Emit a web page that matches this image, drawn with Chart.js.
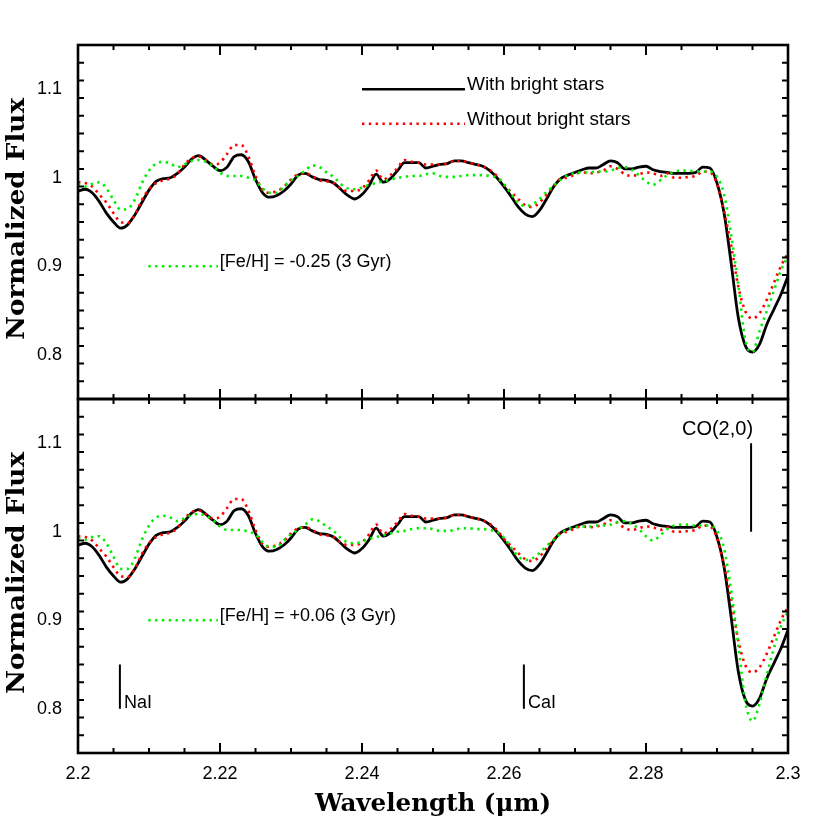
<!DOCTYPE html>
<html>
<head>
<meta charset="utf-8">
<script src="https://cdn.jsdelivr.net/npm/chart.js@4.4.0/dist/chart.umd.min.js"></script>
<style>
  html, body { margin: 0; padding: 0; background: #fff; }
  #wrap { width: 830px; height: 830px; }
</style>
</head>
<body>
<div id="wrap"><canvas id="spectra" width="830" height="830"></canvas></div>
<script>
// wavelength grid (micron)
const wavelength = [
  2.200, 2.201, 2.202, 2.203, 2.204, 2.205, 2.206, 2.207, 2.208, 2.209,
  2.210, 2.211, 2.212, 2.213, 2.214, 2.215, 2.216, 2.217, 2.218, 2.219,
  2.220, 2.221, 2.222, 2.223, 2.224, 2.225, 2.226, 2.227, 2.228, 2.229,
  2.230, 2.231, 2.232, 2.233, 2.234, 2.235, 2.236, 2.237, 2.238, 2.239,
  2.240, 2.241, 2.242, 2.243, 2.244, 2.245, 2.246, 2.247, 2.248, 2.249,
  2.250, 2.251, 2.252, 2.253, 2.254, 2.255, 2.256, 2.257, 2.258, 2.259,
  2.260, 2.261, 2.262, 2.263, 2.264, 2.265, 2.266, 2.267, 2.268, 2.269,
  2.270, 2.271, 2.272, 2.273, 2.274, 2.275, 2.276, 2.277, 2.278, 2.279,
  2.280, 2.281, 2.282, 2.283, 2.284, 2.285, 2.286, 2.287, 2.288, 2.289,
  2.290, 2.291, 2.292, 2.293, 2.294, 2.295, 2.296, 2.297, 2.298, 2.299,
  2.300
];

// normalized flux, with bright stars (same in both panels)
const withBright = [
  0.985, 0.987, 0.983, 0.973, 0.960, 0.950, 0.943, 0.947, 0.958, 0.972,
  0.986, 0.996, 0.999, 1.000, 1.005, 1.012, 1.021, 1.025, 1.020, 1.013,
  1.008, 1.012, 1.024, 1.026, 1.018, 0.998, 0.983, 0.978, 0.980, 0.985,
  0.993, 1.003, 1.005, 1.001, 0.998, 0.997, 0.994, 0.987, 0.980, 0.976,
  0.981, 0.991, 1.004, 0.995, 0.999, 1.008, 1.017, 1.017, 1.017, 1.011,
  1.013, 1.015, 1.016, 1.019, 1.019, 1.017, 1.015, 1.013, 1.008, 1.000,
  0.990, 0.979, 0.967, 0.959, 0.956, 0.963, 0.976, 0.990, 0.999, 1.003,
  1.006, 1.009, 1.011, 1.011, 1.015, 1.019, 1.017, 1.010, 1.010, 1.012,
  1.013, 1.009, 1.007, 1.006, 1.005, 1.005, 1.005, 1.006, 1.012, 1.011,
  0.994, 0.960, 0.903, 0.842, 0.810, 0.803, 0.812, 0.834, 0.851, 0.868,
  0.889
];

// normalized flux, without bright stars
const withoutBright = [
  0.995, 0.994, 0.990, 0.981, 0.972, 0.960, 0.950, 0.949, 0.958, 0.975,
  0.987, 0.994, 0.997, 0.999, 1.004, 1.015, 1.022, 1.024, 1.020, 1.015,
  1.017, 1.027, 1.037, 1.037, 1.024, 1.002, 0.986, 0.983, 0.985, 0.990,
  0.998, 1.004, 1.005, 1.002, 0.997, 0.996, 0.994, 0.988, 0.985, 0.985,
  0.988, 0.997, 1.008, 0.998, 1.003, 1.011, 1.020, 1.018, 1.017, 1.015,
  1.015, 1.015, 1.016, 1.019, 1.019, 1.017, 1.015, 1.013, 1.009, 1.002,
  0.992, 0.984, 0.976, 0.969, 0.967, 0.972, 0.981, 0.991, 0.999, 1.000,
  1.004, 1.006, 1.005, 1.006, 1.008, 1.013, 1.010, 1.004, 1.002, 1.004,
  1.006, 1.005, 1.002, 1.005, 1.000, 1.000, 1.001, 1.002, 1.007, 1.006,
  0.993, 0.962, 0.923, 0.877, 0.849, 0.841, 0.847, 0.862, 0.881, 0.900,
  0.915
];

// model, [Fe/H] = -0.25 (3 Gyr), top panel
const modelMinus025 = [
  0.993, 0.990, 0.993, 0.995, 0.988, 0.975, 0.964, 0.965, 0.975, 0.994,
  1.008, 1.016, 1.018, 1.016, 1.012, 1.015, 1.019, 1.020, 1.018, 1.013,
  1.006, 1.002, 1.002, 1.002, 1.000, 0.997, 0.988, 0.983, 0.983, 0.990,
  0.997, 1.002, 1.008, 1.014, 1.012, 1.006, 1.001, 0.993, 0.988, 0.987,
  0.989, 0.992, 0.994, 0.996, 0.998, 1.000, 1.001, 1.002, 1.002, 1.004,
  1.005, 1.002, 1.001, 1.001, 1.002, 1.003, 1.003, 1.003, 1.002, 1.000,
  0.993, 0.982, 0.972, 0.968, 0.970, 0.976, 0.984, 0.991, 0.998, 1.003,
  1.005, 1.006, 1.006, 1.007, 1.007, 1.008, 1.011, 1.012, 1.009, 1.003,
  0.996, 0.992, 0.997, 1.003, 1.007, 1.008, 1.008, 1.007, 1.007, 1.007,
  1.001, 0.981, 0.935, 0.879, 0.816, 0.803, 0.827, 0.849, 0.872, 0.895,
  0.912
];

// model, [Fe/H] = +0.06 (3 Gyr), bottom panel
const modelPlus006 = [
  0.993, 0.991, 0.994, 0.995, 0.987, 0.972, 0.958, 0.958, 0.970, 0.991,
  1.007, 1.016, 1.018, 1.016, 1.012, 1.015, 1.019, 1.020, 1.018, 1.013,
  1.006, 1.002, 1.002, 1.002, 1.000, 0.997, 0.988, 0.983, 0.983, 0.990,
  0.997, 1.002, 1.008, 1.014, 1.012, 1.006, 1.001, 0.993, 0.988, 0.987,
  0.989, 0.992, 0.994, 0.996, 0.998, 1.000, 1.001, 1.003, 1.004, 1.004,
  1.003, 1.001, 1.001, 1.002, 1.004, 1.004, 1.003, 1.003, 1.002, 1.000,
  0.993, 0.982, 0.972, 0.968, 0.970, 0.976, 0.984, 0.991, 0.998, 1.003,
  1.005, 1.006, 1.006, 1.007, 1.007, 1.008, 1.011, 1.012, 1.009, 1.003,
  0.995, 0.990, 0.996, 1.003, 1.007, 1.008, 1.008, 1.007, 1.007, 1.007,
  1.001, 0.981, 0.933, 0.872, 0.808, 0.786, 0.806, 0.838, 0.868, 0.893,
  0.910
];

// line identifications (bottom panel)
const lineNames = ["NaI", "CaI", "CO(2,0)"];
const lineCentres = [2.2059, 2.2628, 2.2948];
const lineBottoms = [0.80, 0.80, 1.00];
const lineTops = [0.85, 0.85, 1.10];

// axis ticks
const xTickLabels = ["2.2", "2.22", "2.24", "2.26", "2.28", "2.3"];
const xTickValues = [2.20, 2.22, 2.24, 2.26, 2.28, 2.30];
const yTickLabels = ["0.8", "0.9", "1", "1.1"];
const yTickValues = [0.8, 0.9, 1.0, 1.1];

const seriesNames = ["With bright stars", "Without bright stars"];
const modelNames = ["[Fe/H] = -0.25 (3 Gyr)", "[Fe/H] = +0.06 (3 Gyr)"];

// each panel covers 0.75..1.15; the two y scales are offset so they stack
const PANEL_LO = 0.75, PANEL_HI = 1.15;

function pts(ys) {
    return wavelength.map((w, i) => ({ x: w, y: ys[i] }));
}

const solid = { borderColor: "#000", borderWidth: 2.8, pointRadius: 0, fill: false, cubicInterpolationMode: "monotone" };
const dotted = { borderWidth: 2.6, borderDash: [2.4, 4.4], borderCapStyle: "butt", pointRadius: 0, fill: false, cubicInterpolationMode: "monotone" };
const RED = "#ff0000", GREEN = "#00ee00";

const datasets = [];
["yTop", "yBot"].forEach((axis, p) => {
    datasets.push(Object.assign({ data: pts(withBright), yAxisID: axis, order: 3 }, solid));
    datasets.push(Object.assign({ data: pts(withoutBright), yAxisID: axis, order: 2, borderColor: RED }, dotted));
    datasets.push(Object.assign({ data: pts(p === 0 ? modelMinus025 : modelPlus006), yAxisID: axis, order: 1, borderColor: GREEN }, dotted));
});
lineNames.forEach((n, i) => {
    datasets.push({
        data: [{ x: lineCentres[i], y: lineBottoms[i] }, { x: lineCentres[i], y: lineTops[i] }],
        yAxisID: "yBot", borderColor: "#000", borderWidth: 2, pointRadius: 0, order: 0
    });
});

// bold title text squeezed/stretched to a given width
function titleText(ctx, text, x, y, width) {
    ctx.font = "bold 24px 'DejaVu Serif', serif";
    const w = ctx.measureText(text).width;
    ctx.save();
    ctx.translate(x, y);
    ctx.scale(width / w, 1);
    ctx.textAlign = "center";
    ctx.textBaseline = "middle";
    ctx.fillText(text, 0, 0);
    ctx.restore();
}

// frame, inward ticks, labels and annotations
const framePlugin = {
    id: "frame",
    afterDraw(chart) {
        const ctx = chart.ctx;
        const xs = chart.scales.x;
        const panels = [chart.scales.yTop, chart.scales.yBot];
        const L = xs.getPixelForValue(2.2), R = xs.getPixelForValue(2.3);
        ctx.save();
        ctx.strokeStyle = "#000";
        ctx.fillStyle = "#000";

        panels.forEach(ys => {
            const T = ys.getPixelForValue(PANEL_HI), B = ys.getPixelForValue(PANEL_LO);
            ctx.lineWidth = 2.6;
            ctx.strokeRect(L, T, R - L, B - T);
            ctx.lineWidth = 2;
            ctx.beginPath();
            // x ticks every 0.005, major every 0.02
            for (let k = 0; k <= 20; k++) {
                const px = xs.getPixelForValue(2.2 + k * 0.005);
                const len = k % 4 === 0 ? 10 : 5;
                ctx.moveTo(px, B); ctx.lineTo(px, B - len);
                ctx.moveTo(px, T); ctx.lineTo(px, T + len);
            }
            // y ticks every 0.02, major every 0.1
            for (let k = 1; k < 20; k++) {
                const v = PANEL_LO + k * 0.02;
                const py = ys.getPixelForValue(v);
                const major = Math.abs(Math.round(v * 10) - v * 10) < 1e-6;
                const len = major ? 12 : 6;
                ctx.moveTo(L, py); ctx.lineTo(L + len, py);
                ctx.moveTo(R, py); ctx.lineTo(R - len, py);
            }
            ctx.stroke();

            ctx.font = "18px 'Liberation Sans', Arial, sans-serif";
            ctx.textAlign = "right";
            ctx.textBaseline = "middle";
            yTickLabels.forEach((t, i) => ctx.fillText(t, 62, ys.getPixelForValue(yTickValues[i])));
        });

        // x tick labels under the bottom panel
        ctx.textAlign = "center";
        ctx.textBaseline = "middle";
        xTickLabels.forEach((t, i) => ctx.fillText(t, xs.getPixelForValue(xTickValues[i]), 774));

        // axis titles
        titleText(ctx, "Wavelength (\u03bcm)", (L + R) / 2, 805, 236);
        panels.forEach(ys => {
            const cy = (ys.getPixelForValue(PANEL_HI) + ys.getPixelForValue(PANEL_LO)) / 2;
            ctx.save();
            ctx.translate(18, cy - 3);
            ctx.rotate(-Math.PI / 2);
            titleText(ctx, "Normalized Flux", 0, 0, 242);
            ctx.restore();
        });

        // legend samples
        ctx.font = "19px 'Liberation Sans', Arial, sans-serif";
        ctx.textAlign = "left";
        ctx.textBaseline = "alphabetic";
        const top = panels[0], bot = panels[1];
        const sample = (x0, x1, y, color, dash, label) => {
            const a = xs.getPixelForValue(x0), b = xs.getPixelForValue(x1);
            ctx.save();
            ctx.strokeStyle = color;
            ctx.lineWidth = 2.6;
            ctx.setLineDash(dash);
            ctx.beginPath(); ctx.moveTo(a, y); ctx.lineTo(b, y); ctx.stroke();
            ctx.restore();
            ctx.fillText(label, b + 2, y + 1);
        };
        sample(2.240, 2.2545, top.getPixelForValue(1.10), "#000", [], seriesNames[0]);
        sample(2.240, 2.2545, top.getPixelForValue(1.061), RED, [2.4, 4.4], seriesNames[1]);
        ctx.font = "18px 'Liberation Sans', Arial, sans-serif";
        sample(2.2099, 2.2197, top.getPixelForValue(0.90), GREEN, [2.4, 4.4], modelNames[0]);
        sample(2.2099, 2.2197, bot.getPixelForValue(0.90), GREEN, [2.4, 4.4], modelNames[1]);

        // line identification labels
        ctx.fillText(lineNames[0], xs.getPixelForValue(lineCentres[0]) + 4, bot.getPixelForValue(0.80) - 1);
        ctx.fillText(lineNames[1], xs.getPixelForValue(lineCentres[1]) + 4, bot.getPixelForValue(0.80) - 1);
        ctx.font = "20px 'Liberation Sans', Arial, sans-serif";
        ctx.textAlign = "right";
        ctx.fillText(lineNames[2], xs.getPixelForValue(lineCentres[2]) + 2, bot.getPixelForValue(1.10) - 8);
        ctx.restore();
    }
};

new Chart(document.getElementById("spectra").getContext("2d"), {
    type: "line",
    data: { datasets: datasets },
    options: {
        responsive: false,
        animation: false,
        layout: { padding: { left: 78, right: 42, top: 45, bottom: 77 } },
        plugins: { legend: { display: false }, tooltip: { enabled: false } },
        scales: {
            x: { type: "linear", min: 2.2, max: 2.3, display: false },
            yTop: { type: "linear", min: 2 * PANEL_LO - PANEL_HI, max: PANEL_HI, display: false },
            yBot: { type: "linear", min: PANEL_LO, max: 2 * PANEL_HI - PANEL_LO, display: false }
        }
    },
    plugins: [framePlugin]
});
</script>
</body>
</html>
